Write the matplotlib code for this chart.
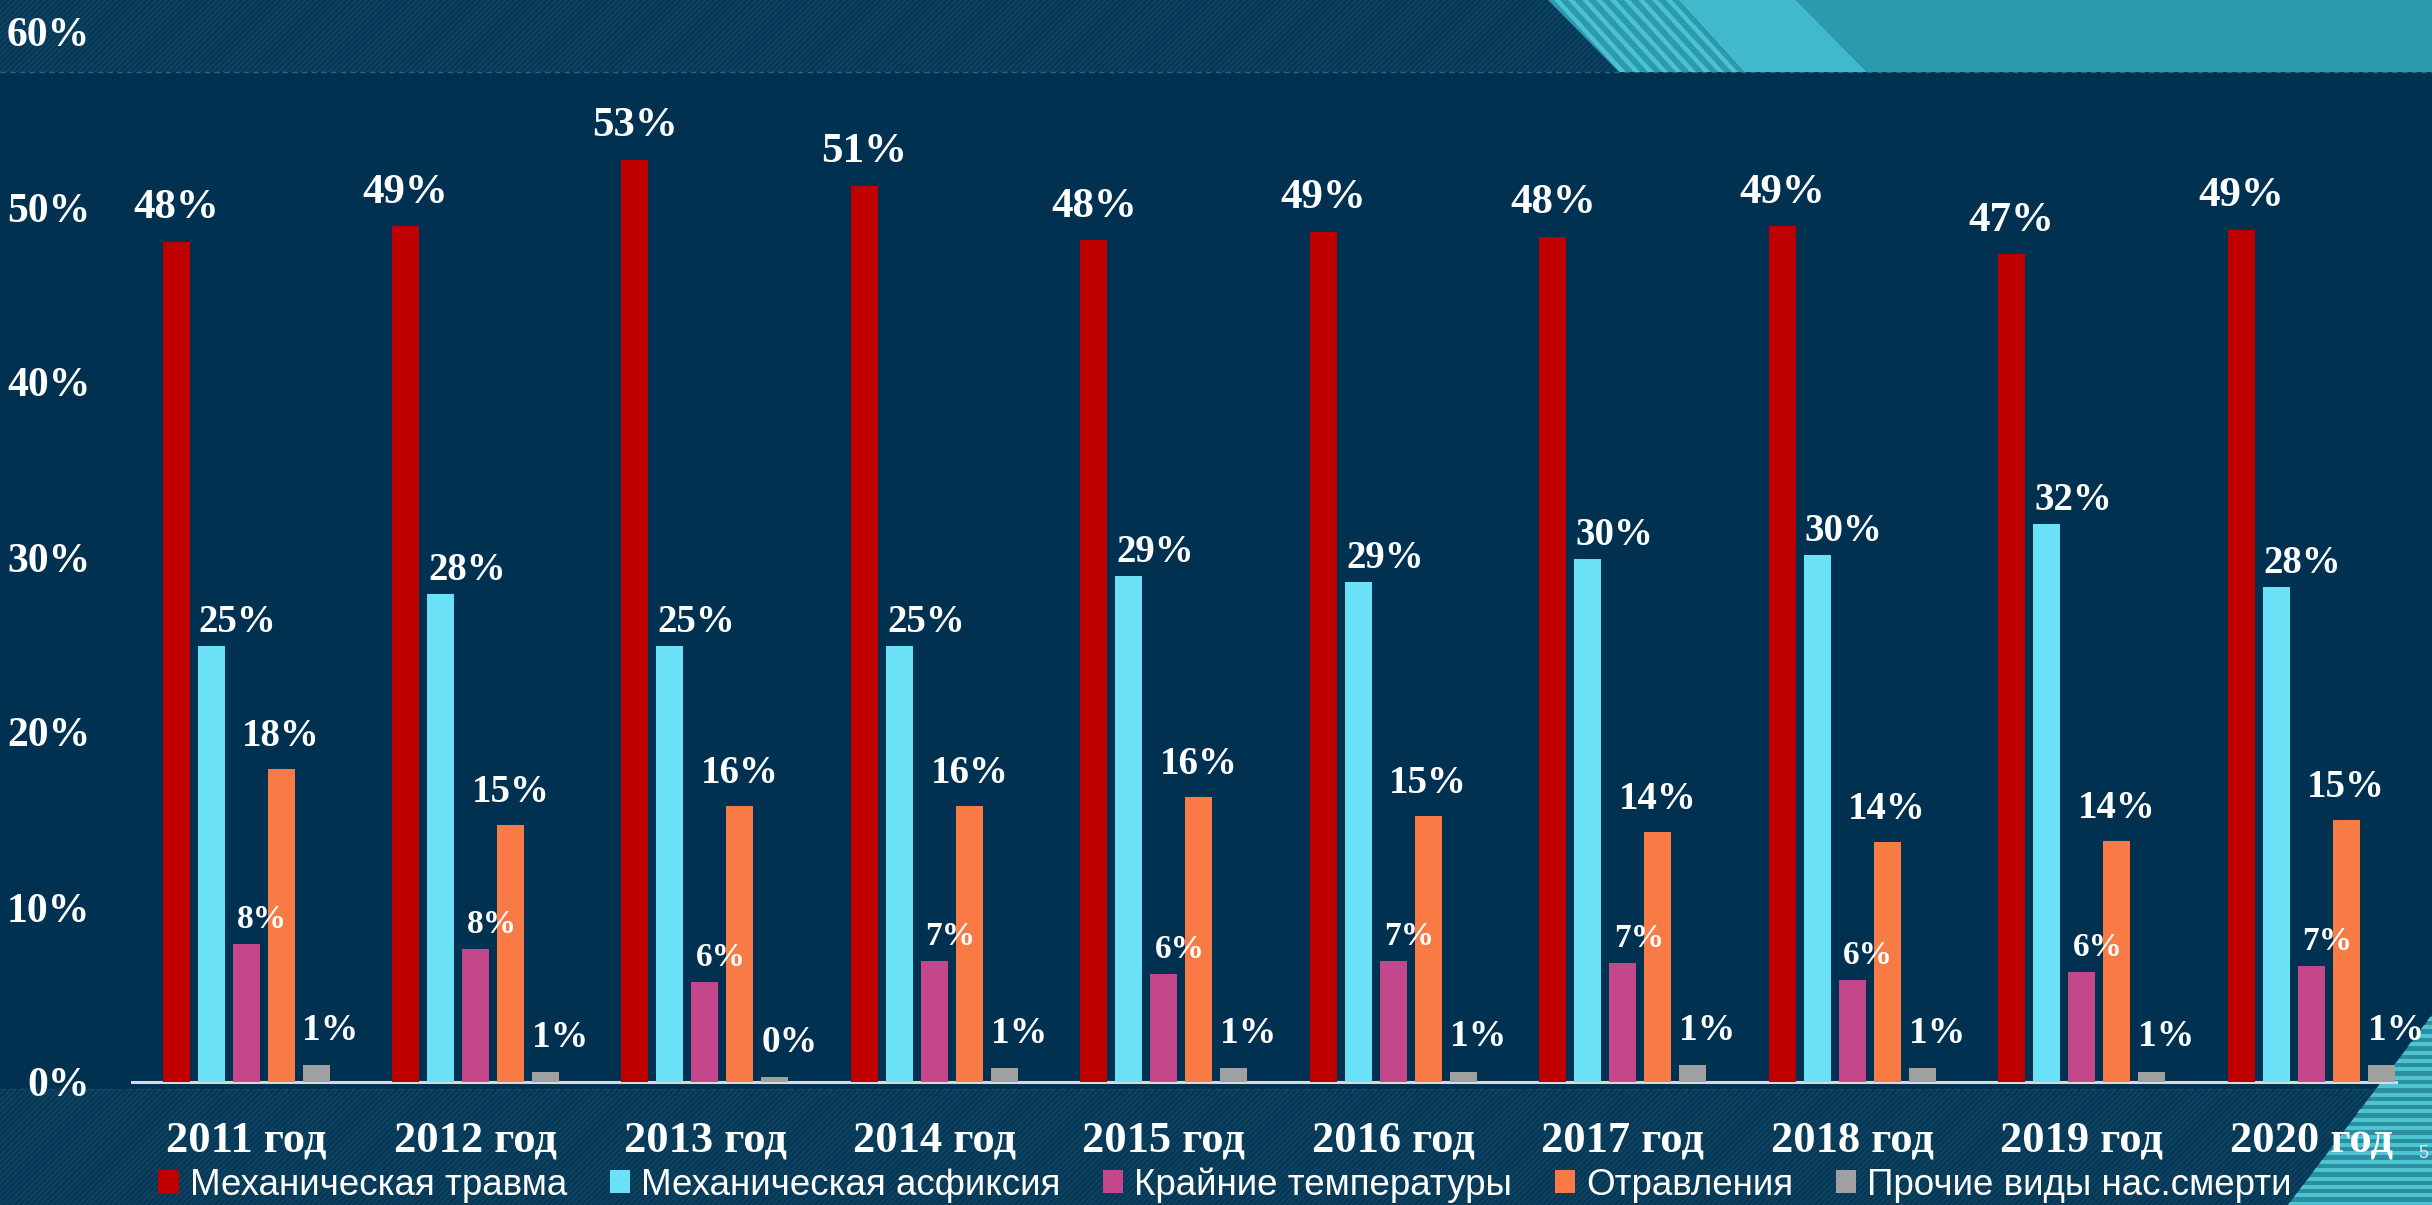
import numpy as np
import matplotlib
matplotlib.use("Agg")
import matplotlib.pyplot as plt
from matplotlib.patches import Polygon, Rectangle, Patch
from matplotlib.lines import Line2D

# --- data (percent of violent deaths by category) ---
years = ["2011 год", "2012 год", "2013 год", "2014 год", "2015 год",
         "2016 год", "2017 год", "2018 год", "2019 год", "2020 год"]
series_names = ["Механическая травма", "Механическая асфиксия",
                "Крайние температуры", "Отравления", "Прочие виды нас.смерти"]
mech_trauma = [48.0, 48.9, 52.7, 51.2, 48.1, 48.6, 48.3, 48.9, 47.3, 48.7]
mech_asphyxia = [24.9, 27.9, 24.9, 24.9, 28.9, 28.6, 29.9, 30.1, 31.9, 28.3]
extreme_temp = [7.9, 7.6, 5.7, 6.9, 6.2, 6.9, 6.8, 5.85, 6.3, 6.65]
poisoning = [17.9, 14.7, 15.8, 15.8, 16.3, 15.2, 14.3, 13.7, 13.8, 15.0]
other = [1.0, 0.55, 0.27, 0.8, 0.8, 0.6, 1.0, 0.8, 0.6, 1.0]
yticks = [0, 10, 20, 30, 40, 50, 60]

colors = ["#C00000", "#6BE1F7", "#C4468B", "#F87A45", "#A0A0A0"]
# label style per series: font size, x offset, y offset (points)
label_size = [31, 28, 24, 28, 27]
label_dx = [0, 19, 11.5, 0, 10.5]
label_dy = [17, 10, 11.5, 16.5, 18]

W, H = 2432, 1205
BG = "#013151"


def px(x, y):
    return (x / W, 1 - y / H)


fig = plt.figure(figsize=(W / 100, H / 100), dpi=100, facecolor=BG)

# --- background decoration ---
band_kw = dict(transform=fig.transFigure, facecolor="#063856", edgecolor="#0F4664",
               hatch="//////", linewidth=0, zorder=-10)
fig.patches.append(Rectangle(px(0, 72), 1, 72 / H, **band_kw))
fig.patches.append(Rectangle(px(0, 1205), 1, (1205 - 1089) / H, **band_kw))
fig.lines.append(Line2D([0, 1], [1 - 72 / H] * 2, transform=fig.transFigure,
                        color="#1C6A80", lw=1, ls=(0, (4, 3)), zorder=-9))
fig.lines.append(Line2D([0, 1], [1 - 1089 / H] * 2, transform=fig.transFigure,
                        color="#0D4A64", lw=1, ls=(0, (4, 3)), zorder=-9))

# top-right teal shapes
fig.patches.append(Polygon([px(1796, 0), px(W, 0), px(W, 72), px(1867, 72)],
                           transform=fig.transFigure, facecolor="#2A9BAD", lw=0, zorder=-8))
fig.patches.append(Polygon([px(1679, 0), px(1796, 0), px(1867, 72), px(1744, 72)],
                           transform=fig.transFigure, facecolor="#40B9CA", lw=0, zorder=-8))
fig.patches.append(Polygon([px(1548, 0), px(1679, 0), px(1744, 72), px(1619, 72)],
                           transform=fig.transFigure, facecolor="#2A9BAD", lw=0, zorder=-8))
for s in range(0, 131, 14):
    x0 = 1548 + s
    fig.patches.append(Polygon([px(x0 + 6, 0), px(min(x0 + 12, 1679), 0),
                                px(min(x0 + 12, 1679) + 66, 72), px(x0 + 6 + 66, 72)],
                               transform=fig.transFigure, facecolor="#4CC1D0", lw=0, zorder=-7))

# bottom-right striped triangle
fig.patches.append(Polygon([px(W, 1015), px(W, H), px(2288, H)],
                           transform=fig.transFigure, facecolor="#2A8FA0", lw=0, zorder=-8))
for yy in np.arange(1017, H, 8.4):
    x_edge = W - (yy - 1015) * 144 / 190
    x_edge2 = W - (yy + 4 - 1015) * 144 / 190
    fig.patches.append(Polygon([px(x_edge, yy), px(W, yy), px(W, yy + 4), px(x_edge2, yy + 4)],
                               transform=fig.transFigure, facecolor="#4EC3D1", lw=0, zorder=-7))

# --- chart ---
ax = fig.add_axes([132 / W, 1 - 1082 / H, (2396 - 132) / W, (1082 - 32) / H])
ax.set_facecolor("none")

x = np.arange(len(years))
width = 27 / 229.5
step = 35 / 229.5
data = [mech_trauma, mech_asphyxia, extreme_temp, poisoning, other]

handles = []
for i, (vals, col) in enumerate(zip(data, colors)):
    pos = x + (i - 2) * step
    ax.bar(pos, vals, width=width, color=col, zorder=3)
    handles.append(Patch(facecolor=col, edgecolor="none"))
    for xp, v in zip(pos, vals):
        ax.annotate(f"{v:.0f}%", (xp, v), xytext=(label_dx[i], label_dy[i]),
                    textcoords="offset points", ha="center", va="baseline",
                    fontsize=label_size[i], fontweight="bold", color="white",
                    family="Liberation Serif", zorder=4)

ax.set_xlim(-0.497, 9.37)
ax.set_ylim(0, 60)
ax.set_yticks(yticks)
ax.set_yticklabels([f"{t}%" for t in yticks])
ax.set_xticks(x)
ax.set_xticklabels(years)
for lab in ax.get_yticklabels() + ax.get_xticklabels():
    lab.set_family("Liberation Serif")
    lab.set_fontweight("bold")
    lab.set_color("white")
for lab in ax.get_yticklabels():
    lab.set_fontsize(30)
for lab in ax.get_xticklabels():
    lab.set_fontsize(32)
ax.tick_params(axis="y", length=0, pad=30)
ax.tick_params(axis="x", length=0, pad=28)

for side in ["left", "right", "top"]:
    ax.spines[side].set_visible(False)
ax.spines["bottom"].set_color("#D9D9D9")
ax.spines["bottom"].set_linewidth(2.2)

leg = fig.legend(handles, series_names, loc="center",
                 bbox_to_anchor=(1225 / W, 1 - 1185 / H), ncol=5, frameon=False,
                 prop={"family": "Liberation Sans", "size": 26.5},
                 handlelength=0.55, handleheight=0.6, handletextpad=0.3,
                 columnspacing=1.16, borderpad=0)
for t in leg.get_texts():
    t.set_color("white")

fig.text(2423 / W, 1 - 1153 / H, "5", ha="center", va="center", fontsize=13,
         color="#DDEEF2", family="Liberation Sans")

fig.savefig("out.png", dpi=100, facecolor=BG)
